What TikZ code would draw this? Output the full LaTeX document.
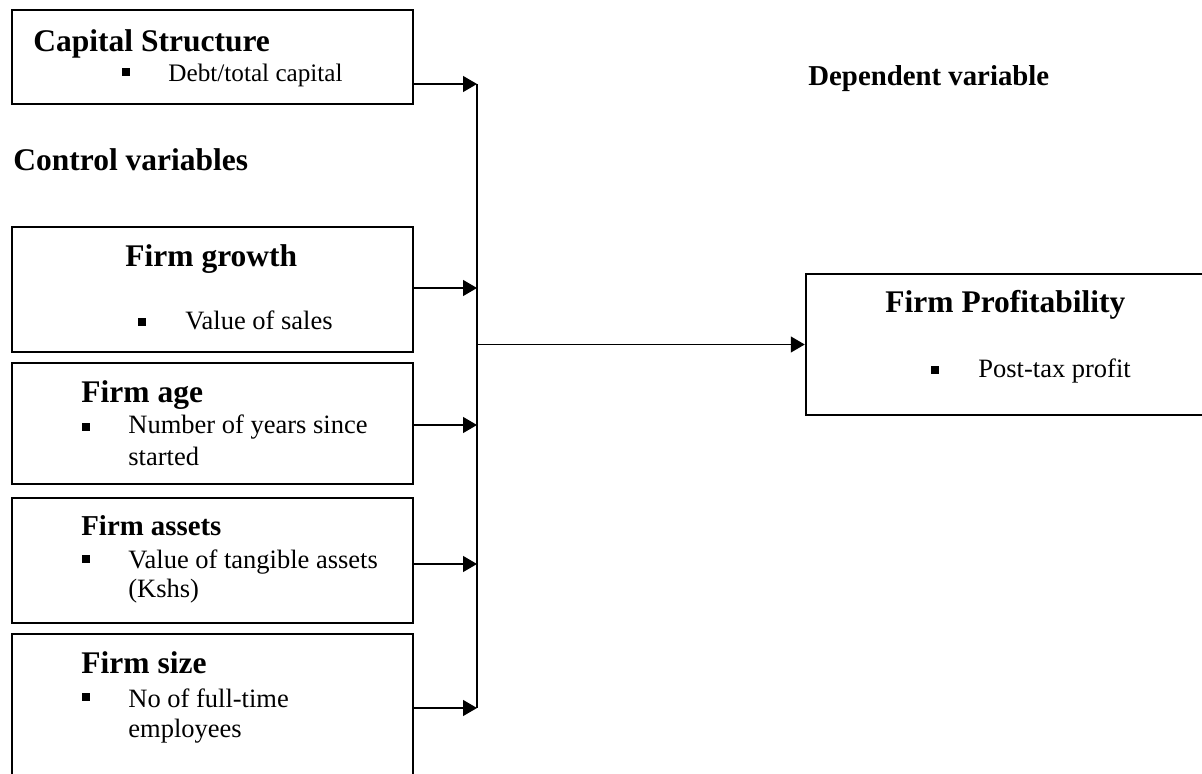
\documentclass[tikz,border=0pt]{standalone}
\usepackage{fontspec}
\setmainfont{Liberation Serif}
\usetikzlibrary{arrows.meta,fit}

\begin{document}
\begin{tikzpicture}[x=0.5pt,y=-0.5pt,
	box/.style={draw,line width=1.25pt,inner sep=0pt},
	head/.style={anchor=base west,inner sep=0pt,font=\fontsize{15.75}{18}\selectfont\bfseries},
	smallhead/.style={head,font=\fontsize{14.4}{17}\selectfont\bfseries},
	item/.style={anchor=base west,inner sep=0pt,font=\fontsize{13.25}{15}\selectfont},
	smallitem/.style={item,font=\fontsize{12.6}{15}\selectfont},
	dot/.style={fill,inner sep=0pt,minimum size=3.6pt},
	flow/.style={line width=0.6pt,-{Triangle[length=7pt,width=8pt]}}]
	\useasboundingbox (0,0) rectangle (1202,774);

	% boxes
	\foreach \n/\a/\b/\c/\d in {cap/12/10/413/104,growth/12/227/413/352,age/12/363/413/484,assets/12/498/413/623,size/12/634/413/800,profit/806/274/1230/415}
		\node[box,fit={(\a,\b) (\c,\d)}] (\n) {};

	\node[head] (capT) at (33,52) {Capital Structure};
	\node[dot] (capD) at (126,72) {};
	\node[smallitem] (capI) at (168,82) {Debt/total capital};

	\node[head] (ctrl) at (13,171) {Control variables};
	\node[smallhead] (dep) at (808,86) {Dependent variable};

	\node[head] (growthT) at (125,267) {Firm growth};
	\node[dot] (growthD) at (142,322) {};
	\node[item] (growthI) at (185,330) {Value of sales};

	\node[head] (ageT) at (81,402) {Firm age};
	\node[dot] (ageD) at (86,427) {};
	\node[item] (ageI) at (128,433) {Number of years since};
	\node[item] (ageJ) at (128,465) {started};

	\node[smallhead] (assetsT) at (81,535) {Firm assets};
	\node[dot] (assetsD) at (86,559) {};
	\node[item] (assetsI) at (128,568) {Value of tangible assets};
	\node[item] (assetsJ) at (128,597) {(Kshs)};

	\node[head] (sizeT) at (81,673) {Firm size};
	\node[dot] (sizeD) at (86,697) {};
	\node[item] (sizeI) at (128,707) {No of full-time};
	\node[item] (sizeJ) at (128,737) {employees};

	\node[head] (profitT) at (885,313) {Firm Profitability};
	\node[dot] (profitD) at (935,370) {};
	\node[item] (profitI) at (978,378) {Post-tax profit};

	% connectors
	\coordinate (bus) at (477,84);
	\coordinate (busend) at (477,708);
	\draw[line width=0.6pt] (bus) -- (busend);
	\foreach \n/\y in {cap/84,growth/288,age/425,assets/564,size/708}
		\draw[flow] (\n.east |- 0,\y) -- (bus |- 0,\y);
	\draw[flow] (bus |- profit.west) -- (profit.west);
\end{tikzpicture}
\end{document}
